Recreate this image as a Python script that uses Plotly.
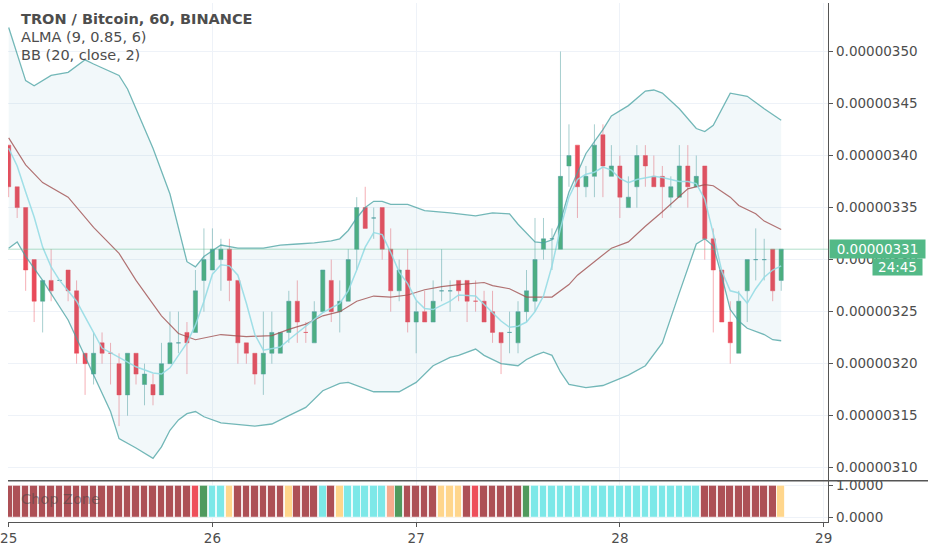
import pandas as pd
import plotly.graph_objects as go

# hourly candles, prices in satoshi (1e-8 BTC)
opens = [341, 337, 335, 330, 326, 328, 328, 329, 327, 321, 319, 322, 321, 320, 317, 321,
         318, 318, 317, 320, 322, 323, 323, 328, 329, 330, 331, 328, 322, 321, 319, 321,
         321, 323, 326, 323, 322, 325, 328, 325, 326, 331, 335, 334, 335, 331, 327, 329,
         324, 325, 324, 327, 327, 328, 328, 326, 326, 325, 323, 323, 322, 325, 326, 331,
         332, 331, 339, 341, 337, 338, 342, 338, 339, 335, 337, 340, 338, 338, 336, 336,
         339, 337, 339, 332, 329, 324, 321, 327, 330, 330, 331, 328]
highs = [341, 337, 335, 330, 328, 331, 328, 329, 328, 321, 323, 323, 322, 321, 321, 321,
         320, 319, 322, 325, 325, 324, 329, 333, 333, 332, 332, 328, 322, 321, 325, 325,
         323, 327, 328, 324, 326, 329, 330, 328, 331, 336, 337, 335, 335, 333, 330, 331,
         326, 327, 328, 331, 328, 328, 328, 328, 327, 327, 323, 325, 326, 329, 334, 334,
         333, 350, 343, 341, 339, 343, 343, 341, 340, 338, 341, 341, 340, 339, 338, 341,
         341, 340, 339, 333, 329, 326, 327, 330, 333, 332, 331, 331]
lows = [336, 334, 327, 324, 323, 326, 328, 326, 320, 317, 318, 320, 318, 314, 315, 318,
        316, 316, 317, 320, 321, 319, 323, 325, 329, 327, 326, 320, 320, 318, 317, 320,
        321, 322, 322, 322, 322, 325, 324, 323, 326, 329, 333, 332, 330, 325, 326, 323,
        321, 324, 324, 326, 325, 326, 324, 325, 324, 322, 319, 321, 321, 324, 325, 330,
        329, 331, 337, 334, 336, 336, 336, 338, 334, 335, 335, 337, 337, 334, 335, 336,
        335, 337, 330, 323, 324, 320, 321, 324, 328, 328, 326, 327]
closes = [337, 335, 329, 326, 328, 327, 328, 327, 321, 320, 321, 321, 321, 317, 321, 319,
          319, 317, 320, 322, 322, 322, 327, 330, 331, 331, 328, 322, 321, 319, 321, 323,
          323, 326, 324, 323, 325, 329, 325, 326, 330, 335, 333, 334, 331, 327, 329, 324,
          325, 324, 326, 327, 327, 327, 326, 326, 324, 323, 322, 323, 325, 327, 330, 332,
          332, 338, 340, 337, 338, 341, 339, 339, 336, 336, 340, 339, 337, 337, 337, 339,
          337, 338, 332, 329, 324, 322, 326, 330, 330, 330, 327, 331]

# Bollinger Bands (20, close, 2): bar index -> satoshi
bb_upper_bar = [0, 2, 3, 5, 7, 9, 10, 13, 14, 17, 19, 21, 22, 23, 25, 27, 30, 32, 34, 36,
                38, 39, 40, 41, 42, 43, 44, 45, 47, 49, 52, 55, 57, 59, 60, 61, 62, 63, 64,
                65, 66, 68, 70, 71, 73, 75, 76, 77, 79, 81, 82, 83, 85, 87, 89, 91]
bb_upper = [352.3, 347.2, 346.7, 347.7, 348.0, 349.2, 348.8, 347.7, 346.4, 340.7, 336.3,
            329.8, 329.3, 330.3, 331.4, 331.1, 331.1, 331.4, 331.5, 331.6, 331.8, 332.0,
            332.8, 334.0, 335.0, 335.6, 335.6, 335.3, 335.3, 334.7, 334.5, 334.2, 334.5,
            334.4, 333.4, 332.5, 331.7, 331.6, 331.9, 333.7, 336.5, 340.2, 342.5, 343.8,
            344.8, 346.2, 346.3, 346.0, 344.5, 342.6, 342.3, 342.9, 346.0, 345.7, 344.5,
            343.4]
bb_lower_bar = [0, 1, 2, 4, 7, 10, 12, 13, 15, 17, 18, 19, 20, 21, 22, 23, 25, 29, 31, 33,
                35, 37, 39, 40, 43, 46, 48, 50, 52, 53, 55, 56, 58, 60, 61, 62, 63, 64, 65,
                66, 68, 70, 73, 75, 77, 79, 81, 82, 83, 84, 85, 86, 87, 89, 90, 91]
bb_lower = [331.1, 331.7, 330.3, 328.0, 324.2, 318.9, 315.4, 312.8, 311.9, 310.9, 312.0,
            313.6, 314.6, 315.2, 315.4, 314.9, 314.3, 314.0, 314.2, 315.0, 315.8, 317.4,
            318.1, 318.2, 317.3, 317.3, 318.2, 319.8, 320.6, 320.8, 321.4, 320.8, 320.0,
            319.8, 320.4, 320.8, 321.1, 320.8, 319.2, 318.0, 317.7, 317.9, 318.9, 319.8,
            322.0, 326.8, 331.5, 332.0, 331.3, 328.4, 325.2, 324.1, 323.4, 322.8, 322.3,
            322.2]
bb_basis_bar = [0, 2, 4, 7, 10, 13, 15, 18, 20, 22, 25, 28, 31, 33, 35, 37, 39, 41, 43, 45,
                47, 49, 51, 53, 56, 57, 59, 61, 64, 66, 67, 69, 71, 73, 75, 77, 79, 80, 82,
                83, 85, 86, 88, 89, 91]
bb_basis = [341.7, 339.1, 337.4, 336.0, 333.1, 330.6, 328.0, 324.6, 322.9, 322.3, 322.8,
            322.6, 322.7, 323.3, 323.8, 324.6, 325.0, 326.0, 326.5, 326.4, 326.6, 327.1,
            327.4, 327.6, 327.8, 327.5, 327.2, 326.4, 326.4, 327.6, 328.5, 329.8, 331.1,
            331.7, 333.2, 334.6, 336.1, 336.8, 337.2, 337.1, 336.0, 335.2, 334.4, 333.7,
            332.9]

# ALMA (9, 0.85, 6)
alma_bar = [0, 1, 2, 3, 4, 5, 6, 8, 9, 10, 11, 13, 15, 17, 18, 19, 20, 21, 22, 23, 24, 25,
            26, 27, 28, 29, 30, 32, 33, 35, 37, 39, 40, 41, 42, 43, 44, 45, 46, 47, 48, 49,
            50, 52, 53, 55, 56, 58, 59, 60, 61, 62, 63, 64, 65, 66, 67, 68, 69, 70, 71, 72,
            73, 74, 76, 77, 79, 80, 81, 82, 83, 84, 85, 86, 87, 88, 89, 90, 91]
alma = [340.7, 339.0, 336.5, 334.1, 331.2, 329.3, 328.0, 326.0, 324.5, 323.0, 321.5, 320.6,
        319.7, 319.1, 319.0, 319.6, 320.8, 322.0, 323.7, 326.0, 328.6, 329.5, 329.4, 328.5,
        325.8, 322.8, 321.3, 321.6, 322.3, 323.6, 324.9, 325.8, 327.0, 329.0, 331.2, 332.6,
        332.4, 330.7, 328.8, 327.7, 326.1, 325.3, 325.2, 326.0, 326.6, 326.5, 325.7, 324.1,
        323.5, 323.6, 324.0, 325.0, 326.5, 329.4, 333.0, 336.0, 337.7, 338.2, 338.4, 338.9,
        338.6, 337.8, 337.4, 337.7, 338.0, 337.9, 337.5, 337.5, 337.3, 335.8, 332.5, 328.9,
        327.0, 326.8, 325.8, 327.2, 328.3, 329.0, 329.4]

# Chop Zone state per bar
chop_zone = (["dr"] * 22 + ["r", "g", "c", "c", "o"] + ["dr"] * 6 + ["o"] + ["dr"] * 3
             + ["c", "dr", "o"] + ["c"] * 5 + ["s", "g"] + ["dr"] * 4 + ["o"] * 3
             + ["dr", "r"] + ["dr"] * 5 + ["g"] + ["c"] * 20 + ["dr"] * 9 + ["o"])
chop_value = [1] * len(chop_zone)

day_labels = ["25", "26", "27", "28", "29"]
bar_countdown = "24:45"

chop_colors = {"dr": "#ad5056", "r": "#ee4f5b", "g": "#4f9a5e", "c": "#7de8e8",
               "o": "#ffd68c", "s": "#f6ab8f"}

SAT = 1e-8
t0 = pd.Timestamp("2018-09-25")


def hours(bars):
    return t0 + pd.to_timedelta(bars, unit="h")


def sat(vals):
    return [v * SAT for v in vals]


candle_times = hours(list(range(len(closes))))
day_ticks = [pd.Timestamp(f"2018-09-{d}") for d in day_labels]

W, H = 932, 550
plot_right = 831 / W
main_bottom = 67 / H
pane_bottom = 25 / H
font = "DejaVu Sans"
txt = "#4d4d4d"
grid = "#eef2f8"
tick_font = dict(size=13.5, color=txt)

fig = go.Figure()

fig.add_trace(go.Scatter(x=hours(bb_upper_bar), y=sat(bb_upper), mode="lines",
                         line=dict(color="rgba(70,160,160,0.75)", width=1.3)))
fig.add_trace(go.Scatter(x=hours(bb_lower_bar), y=sat(bb_lower), mode="lines",
                         line=dict(color="rgba(70,160,160,0.75)", width=1.3),
                         fill="tonexty", fillcolor="rgba(90,170,185,0.08)"))

fig.add_trace(go.Candlestick(
    x=candle_times, open=sat(opens), high=sat(highs), low=sat(lows), close=sat(closes),
    increasing=dict(line=dict(color="rgba(80,160,160,0.5)", width=1), fillcolor="#4caf7d"),
    decreasing=dict(line=dict(color="rgba(235,77,92,0.45)", width=1), fillcolor="#e94b5a"),
    whiskerwidth=0))

fig.add_trace(go.Scatter(x=hours(bb_basis_bar), y=sat(bb_basis), mode="lines",
                         line=dict(color="rgba(160,80,80,0.8)", width=1.2)))
fig.add_trace(go.Scatter(x=hours(alma_bar), y=sat(alma), mode="lines",
                         line=dict(color="rgba(150,220,228,0.9)", width=1.5)))

fig.add_trace(go.Bar(x=candle_times, y=chop_value, xaxis="x2", yaxis="y2",
                     width=0.9 * 3600 * 1000,
                     marker=dict(color=[chop_colors[z] for z in chop_zone],
                                 line=dict(color="rgba(255,255,255,0.7)", width=1))))

x_range = [t0 - pd.Timedelta(hours=0.08), t0 + pd.Timedelta(hours=96.55)]
last = closes[-1] * SAT

fig.update_layout(
    width=W, height=H, margin=dict(l=0, r=0, t=0, b=0),
    paper_bgcolor="white", plot_bgcolor="white",
    showlegend=False, hovermode=False, bargap=0,
    font=dict(family=font, size=13, color=txt),
    xaxis=dict(domain=[0, plot_right], range=x_range, anchor="y",
               rangeslider=dict(visible=False), tickvals=day_ticks,
               showticklabels=False, showgrid=True, gridcolor=grid, zeroline=False),
    xaxis2=dict(domain=[0, plot_right], range=x_range, anchor="y2", matches="x",
                tickvals=day_ticks, ticktext=day_labels, ticks="outside", ticklen=4,
                tickcolor="#555", showline=True, linecolor="#555", linewidth=1,
                ticklabeloverflow="allow", showgrid=True, gridcolor=grid,
                tickfont=tick_font),
    yaxis=dict(domain=[main_bottom, 1], anchor="x", side="right",
               range=[308.75 * SAT, 354.66 * SAT], dtick=5 * SAT, tick0=0,
               tickformat=".8f", ticks="outside", ticklen=4, tickcolor="#555",
               showline=True, linecolor="#555", linewidth=1, showgrid=True,
               gridcolor=grid, zeroline=False, tickfont=tick_font),
    yaxis2=dict(domain=[pane_bottom, main_bottom], anchor="x2", side="right",
                range=[-0.156, 1.156], tickvals=[0, 1], tickformat=".4f",
                ticks="outside", ticklen=4, tickcolor="#555", showline=True,
                linecolor="#555", linewidth=1, showgrid=True, gridcolor=grid,
                zeroline=False, tickfont=tick_font),
)

# last price line and separator between panes
fig.add_shape(type="line", xref="paper", yref="y", x0=0, x1=plot_right, y0=last, y1=last,
              line=dict(color="rgba(83,185,135,0.45)", width=1))
fig.add_shape(type="line", xref="paper", yref="paper", x0=0, x1=1, y0=main_bottom,
              y1=main_bottom, line=dict(color="#555", width=1.3))

# legend texts
legend_lines = [("<b>TRON / Bitcoin, 60, BINANCE</b>", 16.5), ("ALMA (9, 0.85, 6)", 34.5),
                ("BB (20, close, 2)", 52.5)]
for text, py in legend_lines:
    fig.add_annotation(text=text, xref="paper", yref="paper", x=11 / W, y=1 - py / H,
                       xanchor="left", yanchor="middle", showarrow=False,
                       font=dict(family=font, size=14.5, color=txt))
fig.add_annotation(text="Chop Zone", xref="paper", yref="paper", x=11 / W, y=1 - 501 / H,
                   xanchor="left", yanchor="middle", showarrow=False,
                   font=dict(family=font, size=14.5, color="rgba(70,70,70,0.55)"))

# price label and bar countdown on the scale
fig.add_annotation(text=f"{last:.8f}", xref="paper", yref="y", x=832 / W, y=last,
                   xanchor="left", yanchor="middle", showarrow=False, bgcolor="#53b987",
                   width=91, height=14, borderpad=2,
                   font=dict(family=font, size=13.5, color="white"))
fig.add_annotation(text=bar_countdown, xref="paper", yref="y", x=927 / W, y=last,
                   yshift=-18, xanchor="right", yanchor="middle", showarrow=False,
                   bgcolor="#53b987", width=45, height=12, borderpad=2,
                   font=dict(family=font, size=13.5, color="white"))

page_css = ("var s = document.createElement('style');"
            "s.innerHTML = 'html, body {margin: 0; padding: 0; overflow: hidden;}';"
            "document.head.appendChild(s);")
fig.write_html("out.html", config={"displayModeBar": False}, post_script=page_css)
